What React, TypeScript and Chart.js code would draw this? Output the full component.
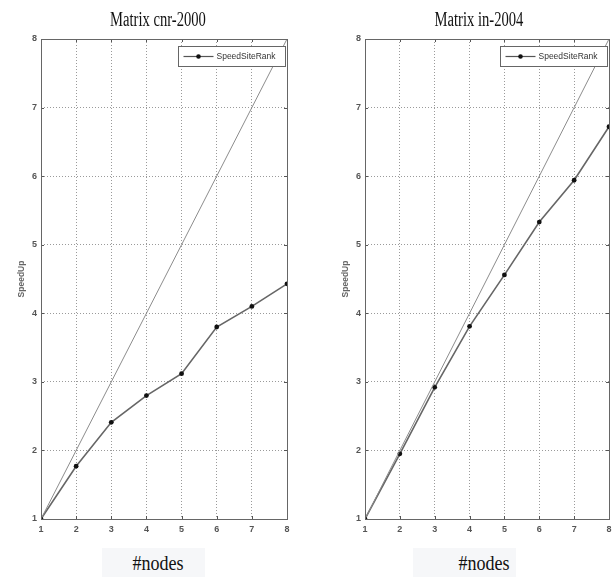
import React, { useEffect, useRef } from "react";
import { Chart, registerables } from "chart.js";

Chart.register(...registerables);

const nodes = [1, 2, 3, 4, 5, 6, 7, 8];
const idealSpeedup = [1, 2, 3, 4, 5, 6, 7, 8];
const cnrSpeedup = [1, 1.77, 2.41, 2.8, 3.12, 3.8, 4.1, 4.43];
const inSpeedup = [1, 1.95, 2.92, 3.81, 4.56, 5.33, 5.94, 6.72];
const yTicks = [1, 2, 3, 4, 5, 6, 7, 8];
const seriesName = "SpeedSiteRank";
const yTitle = "SpeedUp";
const xTitle = "#nodes";
const titles = ["Matrix cnr-2000", "Matrix in-2004"];

const framePlugin = {
  id: "frame",
  afterDatasetsDraw(chart: any) {
    const { ctx, chartArea } = chart;
    const { left, right, top, bottom } = chartArea;
    const xs = chart.scales.x;
    const ys = chart.scales.y;
    ctx.save();
    ctx.strokeStyle = "#555";
    ctx.lineWidth = 1;
    ctx.beginPath();
    xs.ticks.forEach((t: any) => {
      const px = Math.round(xs.getPixelForValue(t.value)) + 0.5;
      ctx.moveTo(px, bottom);
      ctx.lineTo(px, bottom - 3);
      ctx.moveTo(px, top);
      ctx.lineTo(px, top + 3);
    });
    ys.ticks.forEach((t: any) => {
      const py = Math.round(ys.getPixelForValue(t.value)) + 0.5;
      ctx.moveTo(left, py);
      ctx.lineTo(left + 3, py);
      ctx.moveTo(right, py);
      ctx.lineTo(right - 3, py);
    });
    ctx.stroke();
    ctx.strokeStyle = "#666";
    ctx.strokeRect(Math.round(left) + 0.5, Math.round(top) + 0.5, Math.round(right - left), Math.round(bottom - top));
    ctx.restore();
  },
};

const legendPlugin = {
  id: "boxLegend",
  afterDraw(chart: any) {
    const { ctx, chartArea } = chart;
    const w = 107;
    const h = 20;
    const x = Math.round(chartArea.right - 2 - w) + 0.5;
    const y = Math.round(chartArea.top + 7) + 0.5;
    ctx.save();
    ctx.fillStyle = "#fff";
    ctx.fillRect(x, y, w, h);
    ctx.strokeStyle = "#666";
    ctx.lineWidth = 1;
    ctx.strokeRect(x, y, w, h);
    const cy = y + h / 2;
    ctx.strokeStyle = "#555";
    ctx.lineWidth = 1.2;
    ctx.beginPath();
    ctx.moveTo(x + 5, cy);
    ctx.lineTo(x + 35, cy);
    ctx.stroke();
    ctx.fillStyle = "#111";
    ctx.beginPath();
    ctx.arc(x + 20, cy, 2.3, 0, Math.PI * 2);
    ctx.fill();
    ctx.fillStyle = "#333";
    ctx.font = '8.5px "Liberation Sans"';
    ctx.textBaseline = "middle";
    ctx.fillText(chart.data.datasets[1].label, x + 38, cy + 0.5);
    ctx.restore();
  },
};

function Panel(props: { values: number[]; yAxisWidth: number; yTitlePad: number; padRight: number; width: number }) {
  const ref = useRef<HTMLCanvasElement>(null);
  useEffect(() => {
    const canvas = ref.current!;
    const tickFont = { family: "Liberation Sans", size: 9, weight: "bold" as const };
    const chart = new Chart(canvas, {
      type: "line",
      data: {
        datasets: [
          {
            label: "ideal",
            data: nodes.map((n, i) => ({ x: n, y: idealSpeedup[i] })),
            borderColor: "#8c8c8c",
            borderWidth: 1,
            pointRadius: 0,
            fill: false,
          },
          {
            label: seriesName,
            data: nodes.map((n, i) => ({ x: n, y: props.values[i] })),
            borderColor: "#666",
            borderWidth: 1.6,
            pointRadius: 2.4,
            pointBackgroundColor: "#111",
            pointBorderColor: "#111",
            pointBorderWidth: 0,
            fill: false,
          },
        ],
      },
      options: {
        responsive: false,
        animation: false,
        layout: { padding: { left: 0, right: props.padRight, top: 39, bottom: 0 } },
        plugins: { legend: { display: false }, title: { display: false }, tooltip: { enabled: false } },
        scales: {
          x: {
            type: "linear",
            min: 1,
            max: 8,
            afterFit: (s: any) => {
              s.height = 26;
              s.paddingLeft = 0;
              s.paddingRight = 0;
            },
            afterBuildTicks: (s: any) => {
              s.ticks = nodes.map((v) => ({ value: v }));
            },
            ticks: { stepSize: 1, padding: 5, color: "#555", font: tickFont, maxRotation: 0 },
            grid: { color: "#9a9a9a", lineWidth: 1, drawTicks: false },
            border: { display: false, dash: [1, 2] },
          },
          y: {
            type: "linear",
            min: 1,
            max: 8,
            afterFit: (s: any) => {
              s.width = props.yAxisWidth;
              s.paddingTop = 0;
              s.paddingBottom = 0;
            },
            afterBuildTicks: (s: any) => {
              s.ticks = yTicks.map((v) => ({ value: v }));
            },
            ticks: { stepSize: 1, padding: 4, color: "#555", font: tickFont },
            grid: { color: "#9a9a9a", lineWidth: 1, drawTicks: false },
            border: { display: false, dash: [1, 2] },
            title: {
              display: true,
              text: yTitle,
              color: "#666",
              font: { family: "Liberation Sans", size: 8.5, weight: "bold" },
              padding: { top: props.yTitlePad, bottom: 0 },
            },
          },
        },
      },
      plugins: [framePlugin, legendPlugin],
    });
    return () => chart.destroy();
  }, []);
  return <canvas ref={ref} width={props.width} height={545} style={{ display: "block", width: props.width, height: 545 }} />;
}

const titleStyle = (cx: number): React.CSSProperties => ({
  position: "absolute",
  left: cx,
  top: 9,
  transform: "translateX(-50%) scaleX(0.73)",
  fontFamily: '"Liberation Serif", serif',
  fontSize: 20,
  lineHeight: "20px",
  color: "#111",
  whiteSpace: "nowrap",
});

const xlabelBox = (left: number): React.CSSProperties => ({
  position: "absolute",
  left,
  top: 548,
  width: 103,
  height: 29,
  background: "#f6f7f9",
});

const xlabelStyle = (cx: number): React.CSSProperties => ({
  position: "absolute",
  left: cx,
  top: 552,
  transform: "translateX(-50%) scaleX(0.82)",
  fontFamily: '"Liberation Serif", serif',
  fontSize: 22,
  lineHeight: "22px",
  color: "#111",
  whiteSpace: "nowrap",
});

export default function App() {
  return (
    <div style={{ position: "fixed", left: 0, top: 0, width: 613, height: 577, background: "#fff", overflow: "hidden" }}>
      <div style={{ position: "absolute", left: 0, top: 0 }}>
        <Panel values={cnrSpeedup} yAxisWidth={41} yTitlePad={17} padRight={13} width={300} />
      </div>
      <div style={{ position: "absolute", left: 306, top: 0 }}>
        <Panel values={inSpeedup} yAxisWidth={59} yTitlePad={35} padRight={2} width={307} />
      </div>
      <div style={titleStyle(158)}>{titles[0]}</div>
      <div style={titleStyle(479)}>{titles[1]}</div>
      <div style={xlabelBox(102)} />
      <div style={xlabelBox(413)} />
      <div style={xlabelStyle(158)}>{xTitle}</div>
      <div style={xlabelStyle(484)}>{xTitle}</div>
    </div>
  );
}
